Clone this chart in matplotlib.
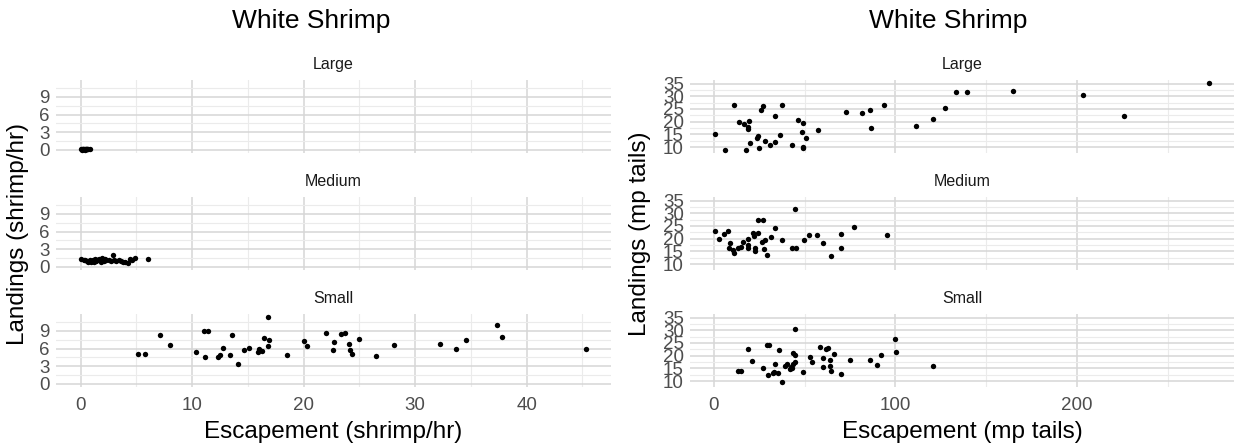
import numpy as np
import matplotlib
matplotlib.use("Agg")
import matplotlib.pyplot as plt
from matplotlib.ticker import MultipleLocator

plt.rcParams['font.family'] = ['Liberation Sans', 'DejaVu Sans']

# --- left chart: escapement vs landings in shrimp/hr ---
sh_large_x = [0.05, 0.1, 0.15, 0.2, 0.25, 0.3, 0.35, 0.4, 0.45, 0.5, 0.55, 0.6, 0.7, 0.8]
sh_large_y = [0.1, 0.15, 0.05, 0.12, 0.1, 0.2, 0.08, 0.12, 0.15, 0.1, 0.12, 0.1, 0.15, 0.12]

sh_medium_x = [0.05, 0.3, 0.4, 0.6, 0.7, 0.8, 0.9, 1.0, 1.1, 1.2, 1.3, 1.4, 1.5, 1.6, 1.7, 1.8,
               1.9, 2.0, 2.1, 2.2, 2.3, 2.5, 2.7, 2.86, 3.0, 3.2, 3.4, 3.6, 3.8, 4.0, 4.2, 4.4,
               4.6, 4.9, 6.05]
sh_medium_y = [1.4, 1.1, 1.2, 1.0, 0.9, 1.2, 0.8, 1.0, 1.1, 0.9, 1.3, 1.0, 1.2, 1.4, 1.1, 0.9,
               1.5, 1.2, 1.0, 1.3, 1.1, 1.2, 1.0, 2.0, 1.1, 1.0, 1.2, 1.0, 0.8, 0.9, 0.6, 1.4,
               1.1, 1.6, 1.27]

sh_small_x = [5.16, 5.79, 7.13, 7.99, 10.35, 11.06, 11.45, 11.18, 12.32, 12.47, 12.77, 13.39,
              13.57, 14.11, 14.64, 15.06, 15.94, 16.03, 16.3, 16.41, 16.83, 16.86, 16.83, 18.47,
              19.99, 20.32, 21.96, 22.65, 22.74, 23.36, 23.75, 24.05, 24.14, 24.29, 24.92,
              26.47, 28.11, 32.2, 33.63, 34.58, 37.36, 37.75, 45.3]
sh_small_y = [5.08, 5.08, 8.33, 6.62, 5.48, 8.9, 8.9, 4.57, 4.62, 4.91, 6.16, 4.85,
              8.28, 3.42, 5.82, 6.11, 5.37, 5.94, 5.65, 7.82, 11.3, 7.42, 6.45, 4.97,
              7.25, 6.5, 8.68, 5.71, 7.08, 8.45, 8.56, 6.73, 5.77, 5.08, 7.65,
              4.68, 6.68, 6.79, 5.94, 7.53, 9.93, 7.88, 5.88]

# --- right chart: escapement vs landings in mp tails ---
mp_large_x = [0.55, 6.1, 11.2, 13.8, 16.8, 19.5, 18.6, 19.0, 17.5, 19.9, 23.8, 24.5, 24.8, 25.8,
              27.4, 28.5, 31.1, 33.7, 33.7, 36.5, 37.4, 43.3, 46.4, 49.0, 48.8, 51.0, 49.4, 49.2,
              57.6, 72.6, 81.4, 86.2, 86.4, 93.7, 111.4, 121.0, 127.3, 133.3, 139.4, 164.6,
              203.3, 226.0, 272.9]
mp_large_y = [15.3, 9.0, 26.5, 19.7, 19.1, 20.1, 17.9, 17.1, 9.0, 11.5, 13.5, 14.4, 9.8, 24.5,
              26.0, 12.3, 10.8, 11.9, 22.2, 14.8, 26.5, 10.8, 20.5, 19.5, 16.1, 13.7, 10.1, 9.6,
              16.8, 23.9, 23.3, 24.5, 17.4, 26.5, 18.4, 20.9, 25.3, 31.6, 31.6, 32.0,
              30.6, 22.2, 35.1]

mp_medium_x = [0.55, 3.1, 5.7, 7.9, 9.0, 8.6, 10.5, 11.2, 13.4, 14.9, 16.0, 18.6, 18.6, 18.8,
               21.7, 22.3, 22.7, 22.7, 24.5, 24.5, 27.4, 26.7, 28.5, 27.8, 29.1, 31.5, 33.5,
               37.4, 43.3, 45.5, 44.8, 49.9, 52.5, 56.9, 60.4, 64.6, 70.0, 70.0, 77.0, 95.6]
mp_medium_y = [23.1, 20.0, 21.9, 23.2, 18.4, 16.5, 15.5, 14.2, 16.5, 16.8, 18.8, 20.0, 17.5, 16.2,
               22.3, 21.0, 16.2, 15.2, 22.1, 27.4, 27.2, 18.8, 19.3, 15.8, 13.7, 20.6, 24.4,
               19.5, 16.5, 16.5, 31.7, 19.5, 21.3, 21.4, 18.4, 13.1, 21.9, 16.5, 24.7, 21.3]

mp_small_x = [13.4, 15.1, 19.0, 21.2, 27.4, 29.1, 30.6, 29.8, 32.8, 33.3, 33.9, 35.5, 35.9, 37.6,
              39.0, 40.1, 42.0, 42.4, 43.1, 43.8, 44.7, 43.6, 44.7, 44.7, 49.2, 53.2, 54.1, 58.4,
              60.4, 60.4, 62.1, 63.2, 64.1, 64.3, 64.6, 66.1, 70.3, 74.8, 85.8, 89.7, 92.1, 99.6,
              100.6, 120.8]
mp_small_y = [13.9, 13.9, 22.6, 17.9, 15.0, 24.2, 24.2, 12.5, 13.2, 13.6, 16.8, 13.3, 22.2, 9.7,
              16.1, 16.7, 14.6, 15.7, 15.2, 16.6, 17.4, 21.2, 20.2, 30.4, 13.7, 19.6, 17.5, 23.5,
              19.2, 15.5, 22.7, 23.1, 18.2, 16.1, 13.9, 20.8, 12.8, 18.2, 18.4, 16.2, 20.4, 26.6,
              21.3, 16.1]

sizes = ['Large', 'Medium', 'Small']

charts = [
    dict(title='White Shrimp', xlabel='Escapement (shrimp/hr)', ylabel='Landings (shrimp/hr)',
         xs=[sh_large_x, sh_medium_x, sh_small_x], ys=[sh_large_y, sh_medium_y, sh_small_y],
         xmaj=10, ymaj=3, left=56, right=611, title_x=311, ylab_x=18),
    dict(title='White Shrimp', xlabel='Escapement (mp tails)', ylabel='Landings (mp tails)',
         xs=[mp_large_x, mp_medium_x, mp_small_x], ys=[mp_large_y, mp_medium_y, mp_small_y],
         xmaj=100, ymaj=5, left=690, right=1234, title_x=948, ylab_x=640),
]

W, H = 1235, 447
fig = plt.figure(figsize=(W / 100, H / 100), dpi=100)
fig.patch.set_facecolor('white')

# panel rows in pixels (top, bottom)
rows = [(80, 153), (197, 270), (314, 387)]

for ch in charts:
    axes = []
    for i, (top, bot) in enumerate(rows):
        rect = [ch['left'] / W, 1 - bot / H, (ch['right'] - ch['left']) / W, (bot - top) / H]
        ax = fig.add_axes(rect, sharex=axes[0] if axes else None, sharey=axes[0] if axes else None)
        axes.append(ax)
        ax.scatter(ch['xs'][i], ch['ys'][i], s=15, color='black', linewidths=0, zorder=3)
        for s in ax.spines.values():
            s.set_visible(False)
        ax.xaxis.set_major_locator(MultipleLocator(ch['xmaj']))
        ax.xaxis.set_minor_locator(MultipleLocator(ch['xmaj'] / 2))
        ax.yaxis.set_major_locator(MultipleLocator(ch['ymaj']))
        ax.yaxis.set_minor_locator(MultipleLocator(ch['ymaj'] / 2))
        ax.grid(True, which='major', color='#D6D6D6', linewidth=1.1, zorder=0)
        ax.grid(True, which='minor', color='#EBEBEB', linewidth=0.8, zorder=0)
        ax.set_axisbelow(True)
        ax.tick_params(which='both', length=0, labelsize=13.5, labelcolor='#4D4D4D')
        ax.tick_params(axis='y', pad=4.5)
        ax.tick_params(axis='x', pad=7)
        ax.set_title(sizes[i], fontsize=11.5, color='#1A1A1A', pad=8)
        if i < 2:
            ax.tick_params(axis='x', labelbottom=False)
    all_x = [v for xs in ch['xs'] for v in xs]
    all_y = [v for ys in ch['ys'] for v in ys]
    xr = max(all_x) - min(all_x)
    yr = max(all_y) - min(all_y)
    axes[0].set_xlim(min(all_x) - 0.05 * xr, max(all_x) + 0.05 * xr)
    axes[0].set_ylim(min(all_y) - 0.05 * yr, max(all_y) + 0.05 * yr)
    axes[2].set_xlabel(ch['xlabel'], fontsize=17.5, color='black', labelpad=5)
    fig.text(ch['title_x'] / W, 1 - 21 / H, ch['title'], fontsize=19, ha='center', va='center')
    fig.text(ch['ylab_x'] / W, 1 - 234 / H, ch['ylabel'], fontsize=17.5, rotation=90,
             ha='center', va='center')

fig.savefig('out.png', dpi=100)
